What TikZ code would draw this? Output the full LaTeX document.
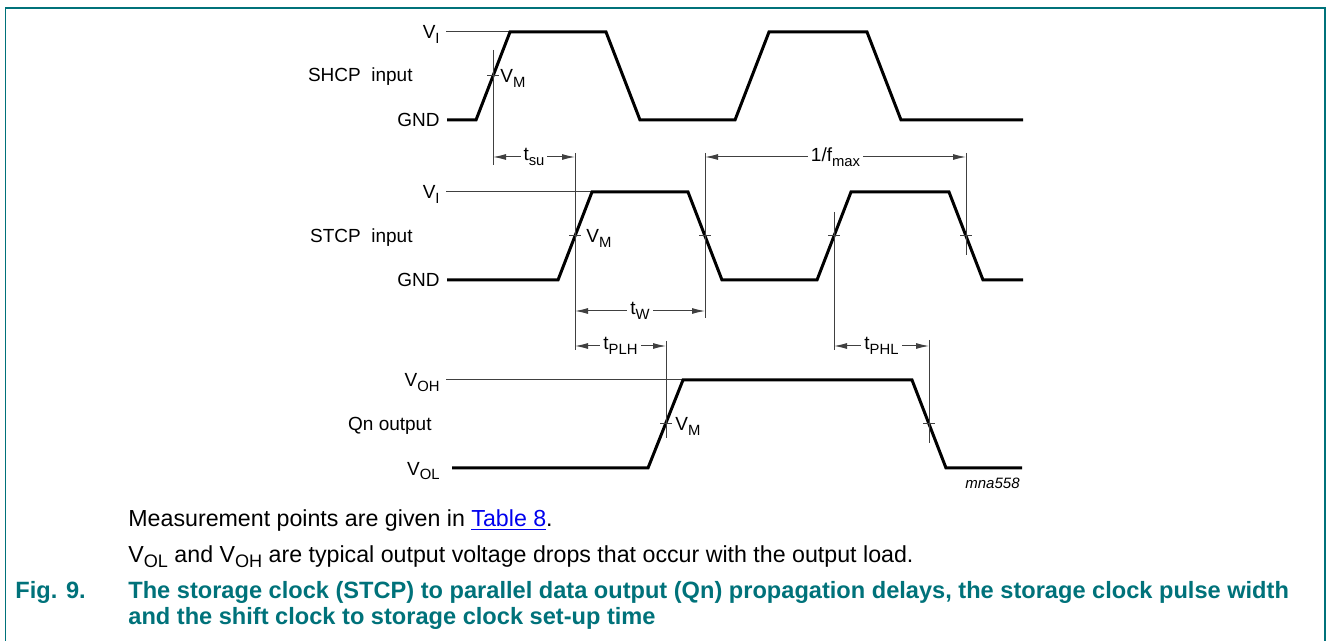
\documentclass[tikz,border=0pt]{standalone}
\usepackage{fontspec}
\setmainfont{Liberation Sans}
\usetikzlibrary{arrows.meta}
\definecolor{nxpteal}{RGB}{0,114,122}
\definecolor{linkblue}{RGB}{0,0,238}
\newcommand{\lowsub}[1]{\raisebox{-0.45ex}{\scalebox{0.78}{#1}}}
\tikzset{
  wave/.style={line width=1.5pt,line join=miter},
  thinline/.style={line width=0.5pt,black!75},
  dimline/.style={thinline,{Latex[length=6.5pt,width=3pt]}-{Latex[length=6.5pt,width=3pt]}},
  dimlbl/.style={fill=white,inner sep=1.5pt,text=black,font=\fontsize{9.5}{11}\selectfont},
  lbl/.style={inner sep=0pt,font=\fontsize{9.5}{11}\selectfont},
  note/.style={inner sep=0pt,anchor=base west,font=\fontsize{11.6}{14}\selectfont},
  figtitle/.style={inner sep=0pt,anchor=base west,text=nxpteal,font=\bfseries\fontsize{11.8}{14}\selectfont}
}
\begin{document}
\begin{tikzpicture}[x=0.5pt,y=-0.5pt]
    \useasboundingbox (0,0) rectangle (1328,641);
    \draw [nxpteal,line width=0.8pt] (5.5,641) -- (5.5,8) -- (1325,8) -- (1325,641);

    \coordinate (shr) at (493,76);
    \coordinate (str1) at (575,236);
    \coordinate (stf1) at (705,236);
    \coordinate (str2) at (834,236);
    \coordinate (stf2) at (966,236);
    \coordinate (qr) at (666,424);
    \coordinate (qf) at (929,424);

    \draw [thinline] (446,32) -- (510,32);
    \draw [thinline] (446,192) -- (592,192);
    \draw [thinline] (446,380) -- (683,380);

    \draw [wave] (447,120) -- (476,120) -- (510,32) -- (606,32) -- (640,120) -- (735,120) -- (769,32) -- (867,32) -- (901,120) -- (1023,120);
    \draw [wave] (447,280) -- (558,280) -- (592,192) -- (688,192) -- (722,280) -- (817,280) -- (851,192) -- (949,192) -- (983,280) -- (1023,280);
    \draw [wave] (452,468) -- (648,468) -- (683,380) -- (912,380) -- (946,468) -- (1022,468);

    \draw [thinline] (shr) ++(0,-26) --++ (0,115);
    \draw [thinline] (str1) ++(0,-83) --++ (0,197);
    \draw [thinline] (stf1) ++(0,-83) --++ (0,165);
    \draw [thinline] (str2) ++(0,-24) --++ (0,138);
    \draw [thinline] (stf2) ++(0,-83) --++ (0,102);
    \draw [thinline] (qr) ++(0,-83) --++ (0,97);
    \draw [thinline] (qf) ++(0,-84) --++ (0,103);

    \draw [thinline] (shr) ++(-6,0) --++ (12,0);
    \draw [thinline] (str1) ++(-6,0) --++ (12,0);
    \draw [thinline] (stf1) ++(-6,0) --++ (12,0);
    \draw [thinline] (str2) ++(-6,0) --++ (12,0);
    \draw [thinline] (stf2) ++(-6,0) --++ (12,0);
    \draw [thinline] (qr) ++(-6,0) --++ (12,0);
    \draw [thinline] (qf) ++(-6,0) --++ (12,0);

    \draw [dimline] (shr |- 0,157) -- node [dimlbl] (tsu) {t\lowsub{su}} (str1 |- 0,157);
    \draw [dimline] (stf1 |- 0,157) -- node [dimlbl] (fmax) {1/f\lowsub{max}} (stf2 |- 0,157);
    \draw [dimline] (str1 |- 0,311) -- node [dimlbl] (tw) {t\lowsub{W}} (stf1 |- 0,311);
    \draw [dimline] (str1 |- 0,346) -- node [dimlbl] (tplh) {t\lowsub{PLH}} (qr |- 0,346);
    \draw [dimline] (str2 |- 0,346) -- node [dimlbl] (tphl) {t\lowsub{PHL}} (qf |- 0,346);

    \node [lbl,anchor=base east] (shcp) at (413,82) {SHCP\ \ input};
    \node [lbl,anchor=base east] (shvi) at (440,39) {V\lowsub{I}};
    \node [lbl,anchor=base east] (shgnd) at (440,127) {GND};
    \node [lbl,anchor=base west] (shvm) at (500,83) {V\lowsub{M}};
    \node [lbl,anchor=base east] (stcp) at (413,243) {STCP\ \ input};
    \node [lbl,anchor=base east] (stvi) at (440,199) {V\lowsub{I}};
    \node [lbl,anchor=base east] (stgnd) at (440,287) {GND};
    \node [lbl,anchor=base west] (stvm) at (586,243) {V\lowsub{M}};
    \node [lbl,anchor=base east] (qn) at (432,430) {Qn output};
    \node [lbl,anchor=base east] (qvoh) at (440,387) {V\lowsub{OH}};
    \node [lbl,anchor=base east] (qvol) at (440,475) {V\lowsub{OL}};
    \node [lbl,anchor=base west] (qvm) at (675,431) {V\lowsub{M}};
    \node [inner sep=0pt,anchor=base east,font=\itshape\fontsize{7.5}{9}\selectfont] (code) at (1020,488) {mna558};

    \node [note] (note1) at (128,526) {Measurement points are given in \textcolor{linkblue}{\underline{Table 8}}.};
    \node [note] (note2) at (128,562) {V\lowsub{OL} and V\lowsub{OH} are typical output voltage drops that occur with the output load.};
    \node [figtitle] (fignum) at (15,598) {Fig. 9.};
    \node [figtitle] (figline1) at (128,598) {The storage clock (STCP) to parallel data output (Qn) propagation delays, the storage clock pulse width};
    \node [figtitle] (figline2) at (128,624) {and the shift clock to storage clock set-up time};
\end{tikzpicture}
\end{document}
